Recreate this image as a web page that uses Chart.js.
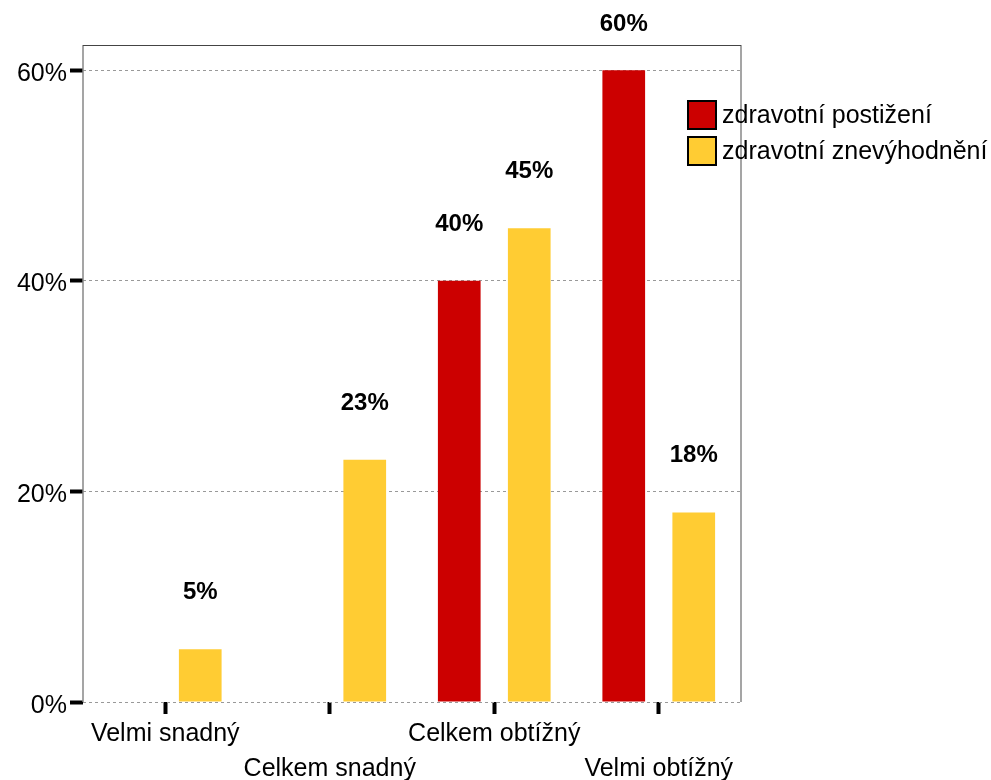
<!DOCTYPE html>
<html>
<head>
<meta charset="utf-8">
<script src="https://cdn.jsdelivr.net/npm/chart.js@4/dist/chart.umd.min.js"></script>
<style>
  html, body { margin: 0; padding: 0; background: #fff; }
  canvas { display: block; }
</style>
</head>
<body>
<canvas id="chart" width="991" height="780"></canvas>
<script>
// Data
const categories = [
    ['Velmi snadný', ''],
    ['', 'Celkem snadný'],
    ['Celkem obtížný', ''],
    ['', 'Velmi obtížný']
];
const seriesNames = ['zdravotní postižení', 'zdravotní znevýhodnění'];
const postizeni = [0, 0, 40, 60];
const znevyhodneni = [5, 23, 45, 18];
const yTicks = [0, 20, 40, 60];

const RED = '#CC0000';
const YELLOW = '#FFCC33';
const FONT = '"Liberation Sans", Arial, sans-serif';

// Rámeček kolem plochy grafu
const framePlugin = {
    id: 'frame',
    afterDatasetsDraw(chart) {
        const { ctx, chartArea: a } = chart;
        ctx.save();
        ctx.strokeStyle = '#888';
        ctx.lineWidth = 1.5;
        ctx.beginPath();
        ctx.moveTo(a.left, a.top);
        ctx.lineTo(a.left, a.bottom);
        ctx.moveTo(a.right, a.top);
        ctx.lineTo(a.right, a.bottom);
        ctx.stroke();
        ctx.strokeStyle = '#444';
        ctx.lineWidth = 1;
        ctx.beginPath();
        ctx.moveTo(a.left, a.top + 0.5);
        ctx.lineTo(a.right, a.top + 0.5);
        ctx.stroke();
        ctx.restore();
    }
};

// Popisky hodnot nad sloupci
const valueLabels = {
    id: 'valueLabels',
    afterDatasetsDraw(chart) {
        const { ctx } = chart;
        ctx.save();
        ctx.font = 'bold 24px ' + FONT;
        ctx.fillStyle = '#000';
        ctx.textAlign = 'center';
        ctx.textBaseline = 'alphabetic';
        chart.data.datasets.forEach((ds, i) => {
            chart.getDatasetMeta(i).data.forEach((bar, j) => {
                const v = ds.data[j];
                if (!v) return;
                ctx.fillText(v + '%', bar.x, Math.max(bar.y - 50, 31));
            });
        });
        ctx.restore();
    }
};

// Legenda vpravo
const legendPlugin = {
    id: 'customLegend',
    afterDraw(chart) {
        const { ctx } = chart;
        const x = 688, y0 = 101, step = 36;
        ctx.save();
        chart.data.datasets.forEach((ds, i) => {
            const y = y0 + i * step;
            ctx.fillStyle = ds.backgroundColor;
            ctx.fillRect(x, y, 28, 28);
            ctx.strokeStyle = '#000';
            ctx.lineWidth = 2;
            ctx.strokeRect(x, y, 28, 28);
            ctx.fillStyle = '#000';
            ctx.font = '25px ' + FONT;
            ctx.textAlign = 'left';
            ctx.textBaseline = 'middle';
            ctx.fillText(ds.label, x + 34, y + 15);
        });
        ctx.restore();
    }
};

new Chart(document.getElementById('chart'), {
    type: 'bar',
    data: {
        labels: categories,
        datasets: [
            { label: seriesNames[0], data: postizeni, backgroundColor: RED },
            { label: seriesNames[1], data: znevyhodneni, backgroundColor: YELLOW }
        ]
    },
    options: {
        responsive: false,
        animation: false,
        layout: { padding: { top: 45, right: 250, left: 0, bottom: 0 } },
        categoryPercentage: 0.851,
        barPercentage: 0.61,
        plugins: {
            legend: { display: false },
            tooltip: { enabled: false }
        },
        scales: {
            x: {
                afterFit(scale) { scale.height = 78; },
                grid: {
                    display: true,
                    offset: false,
                    drawOnChartArea: false,
                    drawTicks: true,
                    tickLength: 12,
                    tickWidth: 4,
                    tickColor: '#000'
                },
                border: { display: false },
                ticks: {
                    autoSkip: false,
                    maxRotation: 0,
                    padding: 3,
                    color: '#000',
                    font: { family: FONT, size: 25, lineHeight: 1.4 }
                }
            },
            y: {
                min: 0,
                max: 62.4,
                afterFit(scale) { scale.width = 83; },
                afterBuildTicks(scale) {
                    scale.ticks = yTicks.map(v => ({ value: v }));
                },
                grid: {
                    color: '#999',
                    lineWidth: 1,
                    drawTicks: true,
                    tickLength: 13,
                    tickWidth: 4,
                    tickColor: '#000',
                    tickBorderDash: []
                },
                border: { display: false, dash: [3, 3] },
                ticks: {
                    padding: 3,
                    color: '#000',
                    // prázdný první řádek posune popisek o pár px dolů
                    font: { family: FONT, size: 25, lineHeight: 0.3 },
                    callback: v => ['', v + '%']
                }
            }
        }
    },
    plugins: [framePlugin, valueLabels, legendPlugin]
});
</script>
</body>
</html>
